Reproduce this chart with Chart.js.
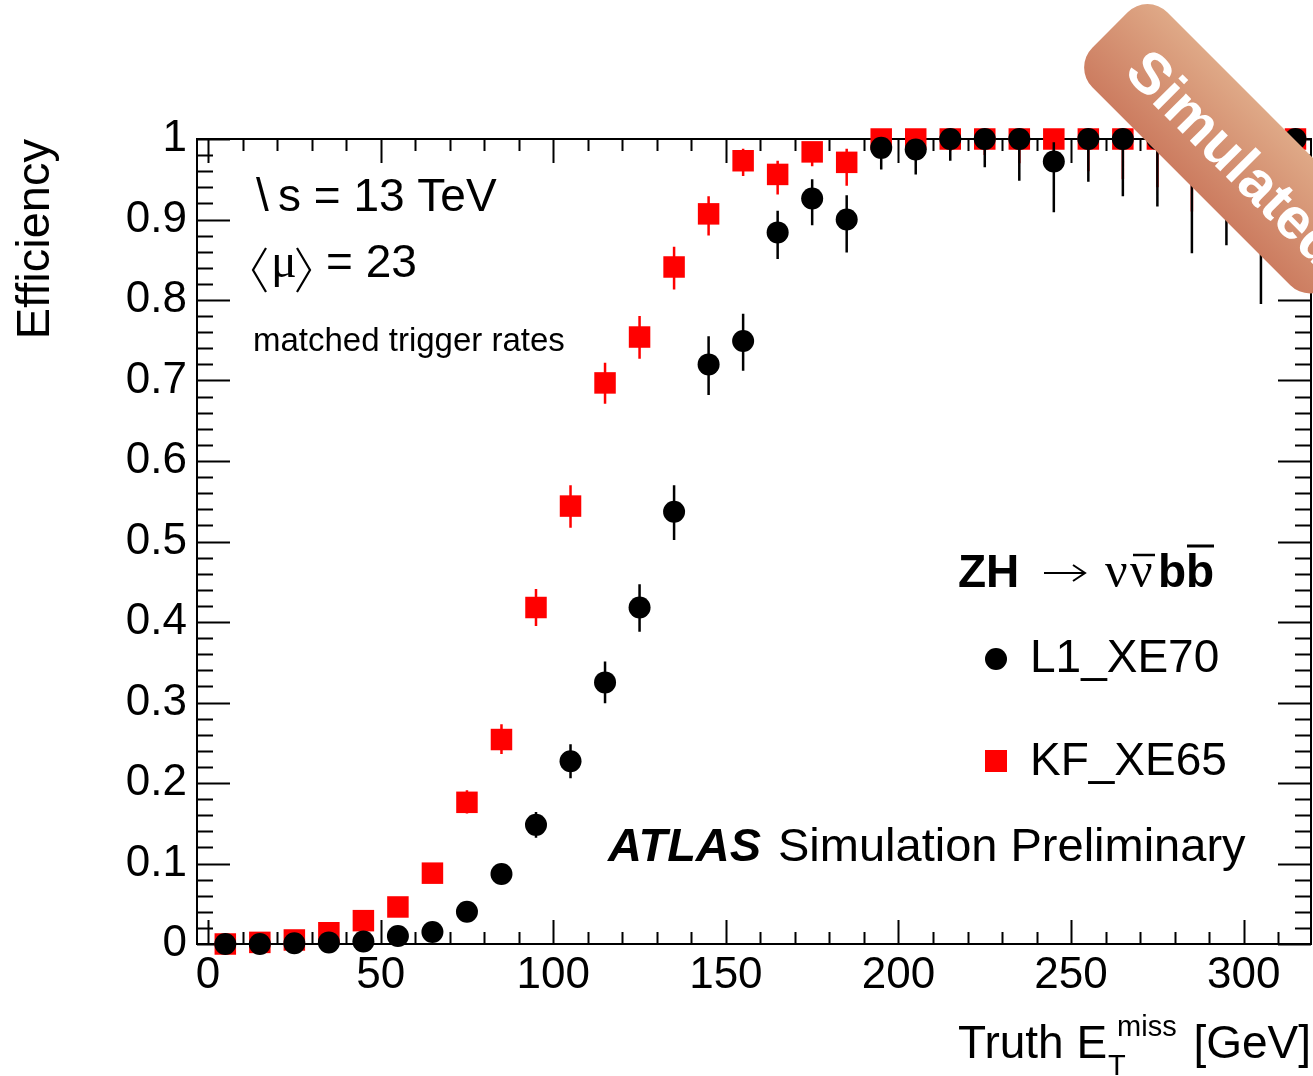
<!DOCTYPE html>
<html>
<head>
<meta charset="utf-8">
<script src="https://cdn.jsdelivr.net/npm/chart.js@4.4.1/dist/chart.umd.min.js"></script>
<style>
  html, body { margin: 0; padding: 0; background: #fff; }
  #wrap { position: relative; width: 1313px; height: 1076px; }
</style>
</head>
<body>
<div id="wrap"><canvas id="eff"></canvas></div>
<script>
// bin centres, truth MET [GeV]
var binCentres = [5, 15, 25, 35, 45, 55, 65, 75, 85, 95,
                  105, 115, 125, 135, 145, 155, 165, 175, 185, 195,
                  205, 215, 225, 235, 245, 255, 265, 275, 285, 295,
                  305, 315];

// L1_XE70 (black circles)
var l1Eff     = [0.000, 0.000, 0.001, 0.002, 0.003, 0.010, 0.015, 0.040, 0.087, 0.148,
                 0.227, 0.325, 0.418, 0.537, 0.720, 0.749, 0.884, 0.926, 0.900, 0.989,
                 0.987, 1.000, 1.000, 1.000, 0.972, 1.000, 1.000, 1.000, 1.000, 1.000,
                 1.000, 1.000];
var l1ErrLow  = [0.000, 0.000, 0.001, 0.002, 0.002, 0.004, 0.005, 0.007, 0.010, 0.016,
                 0.021, 0.026, 0.030, 0.035, 0.038, 0.037, 0.033, 0.033, 0.041, 0.027,
                 0.031, 0.027, 0.035, 0.052, 0.063, 0.053, 0.071, 0.084, 0.142, 0.132,
                 0.205, 0.150];
var l1ErrHigh = [0.001, 0.001, 0.002, 0.002, 0.003, 0.004, 0.006, 0.008, 0.010, 0.016,
                 0.021, 0.026, 0.029, 0.033, 0.035, 0.034, 0.027, 0.024, 0.030, 0.010,
                 0.012, 0.000, 0.000, 0.000, 0.024, 0.000, 0.000, 0.000, 0.000, 0.000,
                 0.000, 0.000];

// KF_XE65 (red squares)
var kfEff     = [0.000, 0.002, 0.005, 0.014, 0.029, 0.046, 0.088, 0.176, 0.254, 0.418,
                 0.544, 0.697, 0.754, 0.841, 0.907, 0.973, 0.956, 0.984, 0.971, 1.000,
                 1.000, 1.000, 1.000, 1.000, 1.000, 1.000, 1.000, 1.000, 1.000, 1.000,
                 1.000, 1.000];
var kfErrLow  = [0.000, 0.001, 0.002, 0.003, 0.004, 0.006, 0.009, 0.014, 0.018, 0.023,
                 0.027, 0.026, 0.027, 0.028, 0.027, 0.019, 0.025, 0.018, 0.029, 0.010,
                 0.012, 0.015, 0.020, 0.030, 0.035, 0.040, 0.050, 0.060, 0.090, 0.100,
                 0.140, 0.100];
var kfErrHigh = [0.001, 0.002, 0.003, 0.004, 0.005, 0.007, 0.010, 0.015, 0.019, 0.023,
                 0.026, 0.025, 0.026, 0.025, 0.022, 0.015, 0.017, 0.012, 0.017, 0.000,
                 0.000, 0.000, 0.000, 0.000, 0.000, 0.000, 0.000, 0.000, 0.000, 0.000,
                 0.000, 0.000];

var xTickValues = [0, 50, 100, 150, 200, 250, 300];
var xTickLabels = ['0', '50', '100', '150', '200', '250', '300'];
var yTickValues = [0, 0.1, 0.2, 0.3, 0.4, 0.5, 0.6, 0.7, 0.8, 0.9, 1];
var yTickLabels = ['0', '0.1', '0.2', '0.3', '0.4', '0.5', '0.6', '0.7', '0.8', '0.9', '1'];

var SANS = '"Liberation Sans", Arial, Helvetica, sans-serif';
var SERIF = '"Liberation Serif", "DejaVu Serif", serif';

function toPoints(vals) {
    return binCentres.map(function (x, i) { return { x: x, y: vals[i] }; });
}

// frame with ROOT style ticks on all four sides
var frameTicks = {
    id: 'frameTicks',
    beforeDatasetsDraw: function (chart) {
        var ctx = chart.ctx, a = chart.chartArea;
        var xs = chart.scales.x, ys = chart.scales.y;
        ctx.save();
        ctx.strokeStyle = '#000';
        ctx.lineWidth = 2;
        ctx.beginPath();
        for (var v = 0; v <= 310; v += 10) {
            var px = Math.round(xs.getPixelForValue(v)) + 0.5;
            var len = (v % 50 === 0) ? 24 : 12;
            ctx.moveTo(px, a.bottom); ctx.lineTo(px, a.bottom - len);
            ctx.moveTo(px, a.top); ctx.lineTo(px, a.top + len);
        }
        for (var k = 0; k <= 50; k++) {
            var py = Math.round(ys.getPixelForValue(k * 0.02)) + 0.5;
            var l = (k % 5 === 0) ? 33 : 16;
            ctx.moveTo(a.left, py); ctx.lineTo(a.left + l, py);
            ctx.moveTo(a.right, py); ctx.lineTo(a.right - l, py);
        }
        ctx.stroke();
        ctx.strokeRect(a.left, a.top, a.right - a.left, a.bottom - a.top);
        ctx.restore();
    }
};

// vertical error bars, drawn just before each dataset's markers
var errorBars = {
    id: 'errorBars',
    beforeDatasetDraw: function (chart, args) {
        var ds = chart.data.datasets[args.index];
        if (!ds.errLow) return;
        var ctx = chart.ctx, ys = chart.scales.y;
        ctx.save();
        ctx.strokeStyle = ds.errColor;
        ctx.lineWidth = 2.5;
        ctx.beginPath();
        args.meta.data.forEach(function (pt, i) {
            var v = ds.data[i].y;
            var top = ys.getPixelForValue(v + ds.errHigh[i]);
            var bot = ys.getPixelForValue(v - ds.errLow[i]);
            ctx.moveTo(pt.x, top);
            ctx.lineTo(pt.x, bot);
        });
        ctx.stroke();
        ctx.restore();
    }
};

// text labels, legend and axis title
var annotations = {
    id: 'annotations',
    afterDatasetsDraw: function (chart) {
        var ctx = chart.ctx;
        ctx.save();
        ctx.fillStyle = '#000';
        ctx.strokeStyle = '#000';
        ctx.textBaseline = 'alphabetic';
        ctx.textAlign = 'left';
        ctx.lineCap = 'butt';

        ctx.font = '46px ' + SANS;
        ctx.fillText('\\', 256, 211);
        ctx.fillText('s = 13 TeV', 278, 211);

        // <mu> = 23, angle brackets drawn as strokes
        ctx.lineWidth = 2.2;
        ctx.beginPath();
        ctx.moveTo(266, 248); ctx.lineTo(253, 270); ctx.lineTo(266, 292);
        ctx.moveTo(297, 248); ctx.lineTo(310, 270); ctx.lineTo(297, 292);
        ctx.stroke();
        ctx.font = '48px ' + SERIF;
        ctx.fillText('\u03BC', 271, 277);
        ctx.font = '46px ' + SANS;
        ctx.fillText('= 23', 326, 277);

        ctx.font = '33px ' + SANS;
        ctx.fillText('matched trigger rates', 253, 351);

        // legend header ZH -> nu nubar b bbar
        ctx.font = 'bold 46px ' + SANS;
        ctx.fillText('ZH', 958, 587);
        ctx.lineWidth = 2;
        ctx.beginPath();
        ctx.moveTo(1044, 573); ctx.lineTo(1084, 573);
        ctx.moveTo(1073, 565); ctx.lineTo(1085, 573); ctx.lineTo(1073, 581);
        ctx.stroke();
        ctx.font = '50px ' + SERIF;
        ctx.fillText('\u03BD', 1105, 587);
        ctx.fillText('\u03BD', 1130, 587);
        ctx.font = 'bold 46px ' + SANS;
        ctx.fillText('b', 1158, 587);
        ctx.fillText('b', 1186, 587);
        ctx.lineWidth = 2.5;
        ctx.beginPath();
        ctx.moveTo(1133, 555); ctx.lineTo(1155, 555);
        ctx.stroke();
        ctx.lineWidth = 3;
        ctx.beginPath();
        ctx.moveTo(1187, 546); ctx.lineTo(1214, 546);
        ctx.stroke();

        // legend entries
        var dsets = chart.data.datasets;
        ctx.fillStyle = dsets[0].pointBackgroundColor;
        ctx.beginPath();
        ctx.arc(996, 659, 11, 0, Math.PI * 2);
        ctx.fill();
        ctx.fillStyle = dsets[1].pointBackgroundColor;
        ctx.fillRect(985, 750, 22, 22);
        ctx.fillStyle = '#000';
        ctx.font = '46px ' + SANS;
        ctx.fillText(dsets[0].label, 1030, 672);
        ctx.fillText(dsets[1].label, 1030, 775);

        // ATLAS label
        ctx.font = 'italic bold 47px ' + SANS;
        ctx.fillText('ATLAS', 608, 861);
        ctx.font = '47px ' + SANS;
        ctx.fillText('Simulation Preliminary', 778, 861);

        // x-axis title: Truth E_T^miss [GeV]
        ctx.font = '46px ' + SANS;
        var x0 = 958;
        ctx.fillText('Truth E', x0, 1058);
        var wE = ctx.measureText('Truth E').width;
        ctx.textAlign = 'right';
        ctx.fillText('[GeV]', 1311, 1058);
        ctx.textAlign = 'left';
        ctx.font = '29px ' + SANS;
        ctx.fillText('T', x0 + wE + 1, 1075);
        ctx.fillText('miss', x0 + wE + 10, 1036);
        ctx.restore();
    }
};

// "Simulated" banner in the top right corner
var banner = {
    id: 'banner',
    afterDraw: function (chart) {
        var ctx = chart.ctx;
        var L = 336, h = 53, r = 28;
        ctx.save();
        ctx.translate(1110, 30);
        ctx.rotate(Math.PI / 4);
        var g = ctx.createLinearGradient(0, -h, 0, h);
        g.addColorStop(0, '#dfa987');
        g.addColorStop(1, '#cc7c60');
        ctx.fillStyle = g;
        ctx.beginPath();
        ctx.roundRect(0, -h, L, 2 * h, r);
        ctx.fill();
        ctx.fillStyle = '#fff';
        ctx.font = 'bold 58px ' + SANS;
        ctx.textBaseline = 'middle';
        ctx.fillText('Simulated', 40, 6);
        ctx.restore();
    }
};

var canvas = document.getElementById('eff');
new Chart(canvas.getContext('2d'), {
    type: 'scatter',
    data: {
        datasets: [{
            label: 'L1_XE70',
            data: toPoints(l1Eff),
            errLow: l1ErrLow,
            errHigh: l1ErrHigh,
            errColor: '#000000',
            pointStyle: 'circle',
            pointRadius: 11,
            pointHoverRadius: 11,
            pointBackgroundColor: '#000000',
            pointBorderColor: '#000000',
            pointBorderWidth: 0,
            clip: false
        }, {
            label: 'KF_XE65',
            data: toPoints(kfEff),
            errLow: kfErrLow,
            errHigh: kfErrHigh,
            errColor: '#ff0000',
            pointStyle: 'rect',
            pointRadius: 15.2,
            pointHoverRadius: 15.2,
            pointBackgroundColor: '#ff0000',
            pointBorderColor: '#ff0000',
            pointBorderWidth: 0,
            clip: false
        }]
    },
    options: {
        responsive: true,
        maintainAspectRatio: false,
        animation: false,
        events: [],
        layout: { autoPadding: false, padding: { top: 139, right: 2, left: 0, bottom: 0 } },
        plugins: {
            legend: { display: false },
            tooltip: { enabled: false }
        },
        scales: {
            x: {
                type: 'linear',
                min: -3.2,
                max: 319.5,
                afterBuildTicks: function (s) {
                    s.ticks = xTickValues.map(function (v) { return { value: v }; });
                },
                afterFit: function (s) { s.height = 132; },
                grid: { display: false, drawTicks: false },
                border: { display: false },
                ticks: {
                    callback: function (v, i) { return xTickLabels[i]; },
                    font: { family: SANS, size: 44 },
                    color: '#000',
                    padding: 5,
                    maxRotation: 0,
                    autoSkip: false
                }
            },
            y: {
                type: 'linear',
                min: 0,
                max: 1,
                afterBuildTicks: function (s) {
                    s.ticks = yTickValues.map(function (v) { return { value: v }; });
                },
                afterFit: function (s) { s.width = 197; },
                grid: { display: false, drawTicks: false },
                border: { display: false },
                ticks: {
                    callback: function (v, i) { return yTickLabels[i]; },
                    font: { family: SANS, size: 44 },
                    color: '#000',
                    padding: 10,
                    autoSkip: false
                },
                title: {
                    display: true,
                    text: 'Efficiency',
                    align: 'end',
                    color: '#000',
                    font: { family: SANS, size: 47 },
                    padding: { top: 8, bottom: 0 }
                }
            }
        }
    },
    plugins: [frameTicks, errorBars, annotations, banner]
});
</script>
</body>
</html>
